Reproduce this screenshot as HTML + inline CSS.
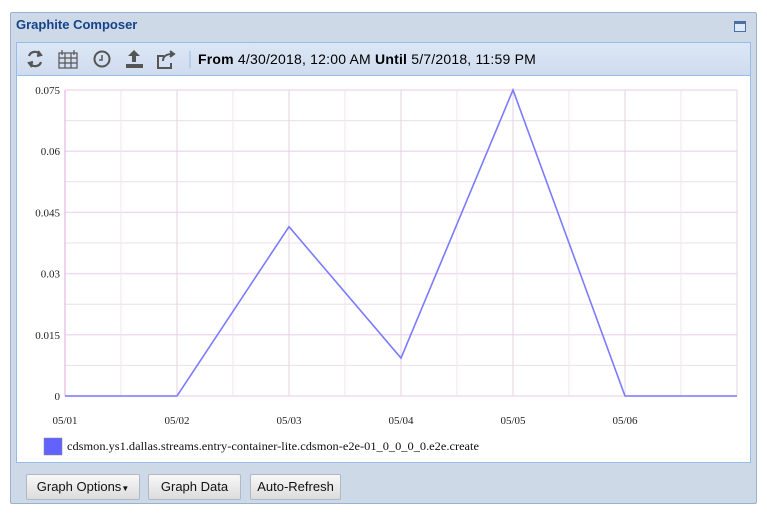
<!DOCTYPE html>
<html><head><meta charset="utf-8"><style>
body{margin:0;width:767px;height:522px;background:#fff;font-family:"Liberation Sans",sans-serif;position:relative;overflow:hidden}
.abs{position:absolute}
#outer{left:10px;top:12px;width:745px;height:490px;background:#cdd9e6;border:1px solid #99b2cf;border-radius:2px}
#title{left:16px;top:17px;font-size:13px;font-weight:bold;color:#15428b}
#maxbtn{left:734px;top:21px;width:12px;height:11px;border:1px solid #4a6fa5;background:#dfe8f6;border-top-width:3px;box-sizing:border-box}
#inner{left:16px;top:42px;width:733px;height:419px;border:1px solid #99bbe8;background:#fff}
#toolbar{left:17px;top:43px;width:733px;height:32px;background:linear-gradient(#dce7f5,#cfdcee);border-bottom:1px solid #99bbe8}
#range{left:198px;top:51px;font-size:14px;color:#000;letter-spacing:0.2px}
.btn{top:474px;height:24px;border:1px solid #b0b8c4;border-radius:2px;background:linear-gradient(#f8f8f8,#dcdcdc);font-size:13px;line-height:24px;text-align:center;color:#111}
</style></head><body>
<div id="outer" class="abs"></div>
<div id="title" class="abs">Graphite Composer</div>
<div id="maxbtn" class="abs"></div>
<div id="inner" class="abs"></div>
<div id="toolbar" class="abs"></div>
<svg class="abs" style="left:0;top:0" width="767" height="522">
 <g fill="none" stroke="#555" stroke-width="2.2">
  <g><path d="M29 56 A6 6 0 0 1 40 55"/><path d="M41 62 A6 6 0 0 1 30 63"/><path d="M38 51 L41 55 L37 56" fill="#555"/><path d="M32 67 L29 63 L33 62" fill="#555"/></g>
 </g>
 <g fill="none" stroke="#555" stroke-width="1.2"><rect x="59" y="53" width="18" height="15"/><path d="M59 58h18M59 63h18M65 53v15M71 53v15M62 50v5M74 50v5"/></g>
 <g fill="none" stroke="#555" stroke-width="2"><circle cx="102" cy="59" r="7.5"/><path d="M102 55v5h-3" stroke-width="1.5"/></g>
 <g fill="#555"><path d="M134 50l-6 6h4v6h4v-6h4z"/><rect x="126" y="64" width="17" height="4"/></g>
 <g fill="none" stroke="#555" stroke-width="2"><path d="M164 56h-6v12h13v-5"/><path d="M163 61c0-5 4-7 9-7"/><path d="M170 51l4 3-4 3" fill="#555"/></g>
 <line x1="190" y1="51" x2="190" y2="68" stroke="#99bbe8"/>
</svg>
<div id="range" class="abs"><b>From</b> 4/30/2018, 12:00 AM <b>Until</b> 5/7/2018, 11:59 PM</div>
<svg id="chart" class="abs" style="left:0;top:0" width="767" height="522"></svg>
<div class="abs btn" style="left:26px;width:112px">Graph Options<span style="font-size:8px">▼</span></div>
<div class="abs btn" style="left:148px;width:91px">Graph Data</div>
<div class="abs btn" style="left:250px;width:89px">Auto-Refresh</div>
<script>
const categories=["05/01","05/02","05/03","05/04","05/05","05/06","05/07"];
const xTickLabels=["05/01","05/02","05/03","05/04","05/05","05/06"];
const seriesValues=[0,0,0.0415,0.0093,0.075,0,0];
const yTickValues=[0,0.015,0.03,0.045,0.06,0.075];
const yTickLabels=["0","0.015","0.03","0.045","0.06","0.075"];
const seriesName="cdsmon.ys1.dallas.streams.entry-container-lite.cdsmon-e2e-01_0_0_0_0.e2e.create";
const L=65,R=737,T=90,B=396,yMax=0.075;
const svg=document.getElementById('chart');const NS="http://www.w3.org/2000/svg";
const xs=i=>L+(R-L)*i/(categories.length-1);
const ys=v=>B-(B-T)*v/yMax;
function mk(t,a,txt){const e=document.createElementNS(NS,t);for(const k in a)e.setAttribute(k,a[k]);if(txt!==undefined)e.textContent=txt;svg.appendChild(e);return e;}
for(let i=0;i<yTickValues.length;i++){
 if(i<yTickValues.length-1){const l=mk('line',{x1:L,x2:R,y1:ys((yTickValues[i]+yTickValues[i+1])/2),y2:ys((yTickValues[i]+yTickValues[i+1])/2),stroke:'#e8e0e8','stroke-width':1});
 
 }
 const g=mk('line',{x1:L,x2:R,y1:ys(yTickValues[i]),y2:ys(yTickValues[i]),stroke:'#f0dcf0','stroke-width':1.5});
 
 
 const t=mk('text',{x:L-5,y:ys(yTickValues[i])+4,'text-anchor':'end','font-size':11,'font-family':'Liberation Serif, serif',fill:'#222'},yTickLabels[i]);
 
 
}
for(let i=0;i<categories.length-1;i++){
 const m=mk('line',{x1:(xs(i)+xs(i+1))/2,x2:(xs(i)+xs(i+1))/2,y1:T,y2:B,stroke:'#ece6ec','stroke-width':1});
 
 
}
for(let i=0;i<categories.length;i++){
 const g=mk('line',{x1:xs(i),x2:xs(i),y1:T,y2:B,stroke:i==0?'#dca8dc':'#e6d0e6','stroke-width':1});
 
 
}
xTickLabels.forEach((lab,i)=>{const t=mk('text',{x:xs(i),y:424,'text-anchor':'middle','font-size':11,'font-family':'Liberation Serif, serif',fill:'#222'},lab);
 
 });
const p=mk('polyline',{points:seriesValues.map((v,i)=>xs(i)+','+ys(v)).join(' '),fill:'none',stroke:'#7b7bff','stroke-width':1.6});


const sw=mk('rect',{x:44,y:438,width:18,height:17,fill:'#6262ff',stroke:'#888','stroke-width':0.5});


const lt=mk('text',{x:67,y:450,'font-size':12,'font-family':'Liberation Serif, serif',fill:'#111',textLength:412,lengthAdjust:'spacingAndGlyphs'},seriesName);


</script>
</body></html>
